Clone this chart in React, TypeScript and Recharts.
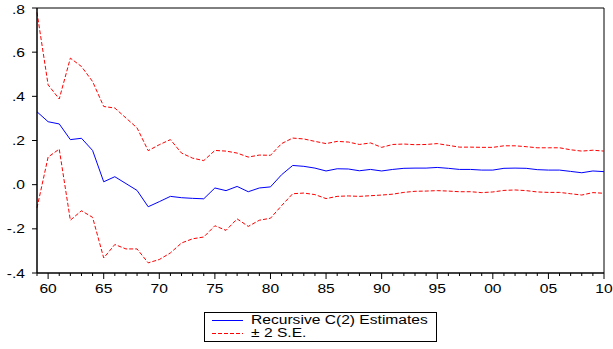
import { LineChart, Line, XAxis, YAxis, ReferenceLine } from 'recharts';

const years = [
    1959, 1960, 1961, 1962, 1963, 1964, 1965, 1966, 1967, 1968,
    1969, 1970, 1971, 1972, 1973, 1974, 1975, 1976, 1977, 1978,
    1979, 1980, 1981, 1982, 1983, 1984, 1985, 1986, 1987, 1988,
    1989, 1990, 1991, 1992, 1993, 1994, 1995, 1996, 1997, 1998,
    1999, 2000, 2001, 2002, 2003, 2004, 2005, 2006, 2007, 2008,
    2009, 2010,
];

const estimates = [
    0.33, 0.285, 0.275, 0.204, 0.21, 0.155, 0.013, 0.036, 0.005, -0.026,
    -0.1, -0.077, -0.053, -0.059, -0.062, -0.064, -0.015, -0.027, -0.008, -0.032,
    -0.015, -0.01, 0.045, 0.087, 0.083, 0.075, 0.062, 0.072, 0.071, 0.063,
    0.069, 0.062, 0.069, 0.074, 0.075, 0.075, 0.078, 0.074, 0.069, 0.069,
    0.066, 0.066, 0.074, 0.075, 0.074, 0.068, 0.066, 0.066, 0.06, 0.054,
    0.062, 0.059,
];

const upperBand = [
    0.78, 0.452, 0.388, 0.573, 0.535, 0.467, 0.354, 0.347, 0.302, 0.257,
    0.154, 0.181, 0.204, 0.143, 0.12, 0.109, 0.155, 0.152, 0.143, 0.125,
    0.134, 0.133, 0.186, 0.211, 0.207, 0.196, 0.186, 0.196, 0.193, 0.182,
    0.189, 0.169, 0.182, 0.184, 0.181, 0.182, 0.186, 0.178, 0.17, 0.17,
    0.169, 0.169, 0.176, 0.176, 0.172, 0.167, 0.167, 0.167, 0.158, 0.152,
    0.156, 0.152,
];

const lowerBand = [
    -0.105, 0.125, 0.161, -0.161, -0.118, -0.148, -0.332, -0.271, -0.291, -0.291,
    -0.354, -0.339, -0.309, -0.264, -0.245, -0.237, -0.186, -0.207, -0.155, -0.189,
    -0.161, -0.152, -0.095, -0.041, -0.038, -0.045, -0.063, -0.053, -0.051, -0.053,
    -0.05, -0.047, -0.043, -0.035, -0.03, -0.029, -0.027, -0.029, -0.032, -0.032,
    -0.036, -0.033, -0.026, -0.024, -0.027, -0.033, -0.035, -0.035, -0.041, -0.047,
    -0.036, -0.039,
];

const yTicks = [-0.4, -0.2, 0, 0.2, 0.4, 0.6, 0.8];

const chartData = years.map((year, i) => ({
    year,
    est: estimates[i],
    upper: upperBand[i],
    lower: lowerBand[i],
}));

const FONT = '"Liberation Sans", Arial, sans-serif';
// the source image text is a little stretched sideways
const STRETCH = 1.2;

const fmtY = (v: number) => v.toFixed(1).replace('0.', '.');

// every year gets a small tick, every fifth a longer one plus a label
const YearTick = (props: any) => {
    const { x, y, payload } = props;
    const yr = payload.value as number;
    const major = yr % 5 === 0;
    return (
        <g>
            <line x1={x} x2={x} y1={y} y2={y + (major ? 6 : 3)} stroke="#000" strokeWidth={1} />
            {major && (
                <text
                    transform={`translate(${x},${y + 19.5}) scale(${STRETCH},1)`}
                    textAnchor="middle"
                    fontSize={13}
                    fontFamily={FONT}
                    fill="#000"
                >
                    {String(yr % 100).padStart(2, '0')}
                </text>
            )}
        </g>
    );
};

const ValueTick = (props: any) => {
    const { x, y, payload } = props;
    return (
        <text
            transform={`translate(${x},${y}) scale(${STRETCH},1)`}
            textAnchor="end"
            dy="0.355em"
            fontSize={13}
            fontFamily={FONT}
            fill="#000"
        >
            {fmtY(payload.value)}
        </text>
    );
};

const legendText = {
    display: 'inline-block',
    transform: 'scaleX(1.3)',
    transformOrigin: 'left center',
};

export default function App() {
    return (
        <div style={{ position: 'absolute', left: 0, top: 0, width: 613, height: 349, background: '#fff' }}>
            <LineChart
                width={613}
                height={349}
                data={chartData}
                margin={{ top: 8, right: 9, bottom: 0, left: 0 }}
            >
                <XAxis
                    dataKey="year"
                    type="number"
                    domain={[1959, 2010]}
                    ticks={years}
                    interval={0}
                    height={76}
                    tickSize={0}
                    tickMargin={0}
                    tickLine={false}
                    tick={<YearTick />}
                    axisLine={{ stroke: '#000', strokeWidth: 1.5 }}
                />
                <YAxis
                    type="number"
                    domain={[-0.4, 0.8]}
                    ticks={yTicks}
                    width={37}
                    tickSize={5}
                    tickMargin={7}
                    tickLine={{ stroke: '#000' }}
                    axisLine={{ stroke: '#000', strokeWidth: 1.5 }}
                    tick={<ValueTick />}
                />
                <ReferenceLine y={0.8} stroke="#000" strokeWidth={1} />
                <ReferenceLine x={2010} stroke="#000" strokeWidth={1} />
                <Line
                    dataKey="upper"
                    stroke="#ff0000"
                    strokeWidth={1}
                    strokeDasharray="4 2"
                    dot={false}
                    isAnimationActive={false}
                />
                <Line
                    dataKey="lower"
                    stroke="#ff0000"
                    strokeWidth={1}
                    strokeDasharray="4 2"
                    dot={false}
                    isAnimationActive={false}
                />
                <Line
                    dataKey="est"
                    stroke="#0000ff"
                    strokeWidth={1}
                    dot={false}
                    isAnimationActive={false}
                />
            </LineChart>
            <div
                style={{
                    position: 'absolute',
                    left: 204,
                    top: 312,
                    width: 233,
                    height: 30,
                    border: '1px solid #000',
                    fontFamily: FONT,
                    fontSize: 12,
                    lineHeight: '13px',
                    paddingTop: 1,
                    boxSizing: 'border-box',
                }}
            >
                <div style={{ display: 'flex', alignItems: 'center', height: 13 }}>
                    <svg width={46} height={13}>
                        <line x1={7} x2={38} y1={6.5} y2={6.5} stroke="#0000ff" strokeWidth={1} />
                    </svg>
                    <span style={legendText}>Recursive C(2) Estimates</span>
                </div>
                <div style={{ display: 'flex', alignItems: 'center', height: 13 }}>
                    <svg width={46} height={13}>
                        <line x1={7} x2={38} y1={6.5} y2={6.5} stroke="#ff0000" strokeWidth={1} strokeDasharray="4 2" />
                    </svg>
                    <span style={legendText}>± 2 S.E.</span>
                </div>
            </div>
        </div>
    );
}
